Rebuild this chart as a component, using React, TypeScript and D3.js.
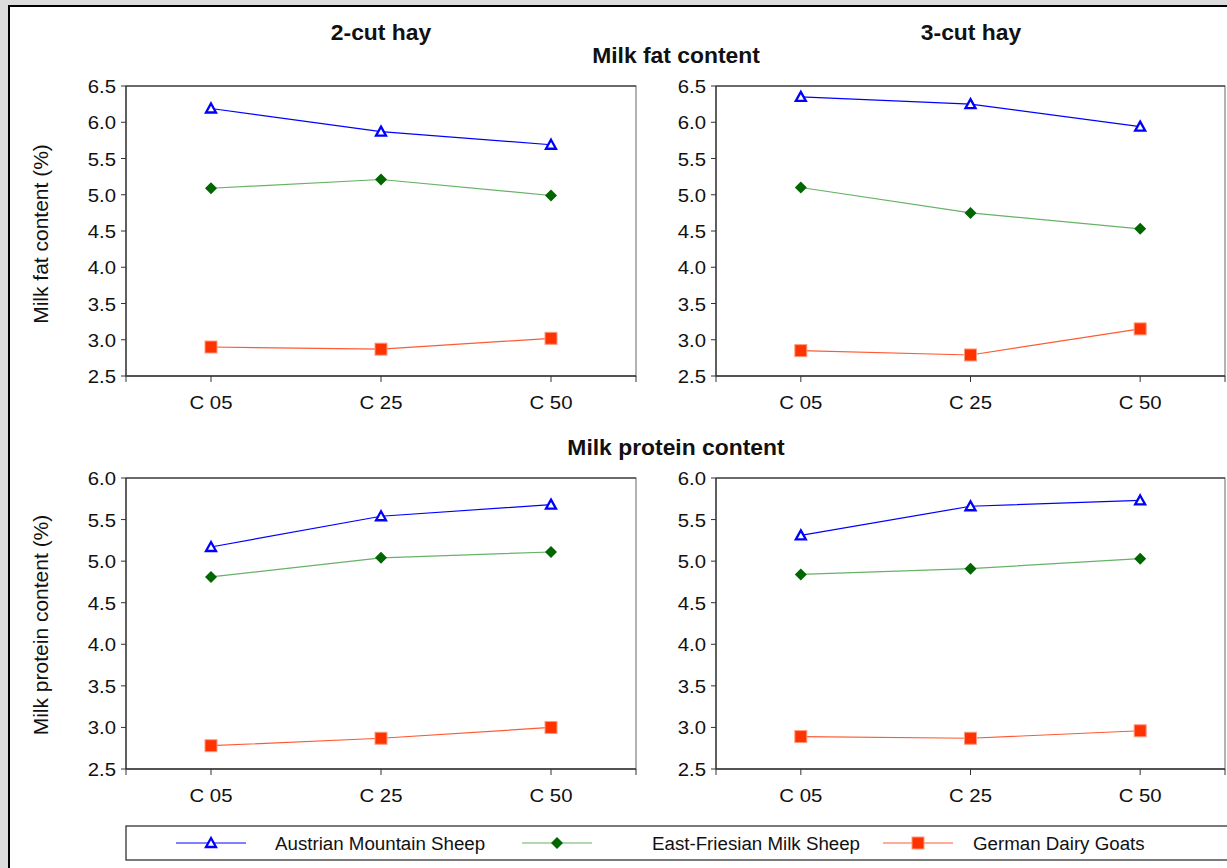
import React from "react";
import * as d3 from "d3";

const categories = ["C 05", "C 25", "C 50"];
const seriesNames = ["Austrian Mountain Sheep", "East-Friesian Milk Sheep", "German Dairy Goats"];

// milk fat (%)
const fat2cutAustrian = [6.19, 5.87, 5.69];
const fat2cutFriesian = [5.09, 5.21, 4.99];
const fat2cutGoats = [2.9, 2.87, 3.02];
const fat3cutAustrian = [6.35, 6.25, 5.94];
const fat3cutFriesian = [5.1, 4.75, 4.53];
const fat3cutGoats = [2.85, 2.79, 3.15];

// milk protein (%)
const prot2cutAustrian = [5.17, 5.54, 5.68];
const prot2cutFriesian = [4.81, 5.04, 5.11];
const prot2cutGoats = [2.78, 2.87, 3.0];
const prot3cutAustrian = [5.31, 5.66, 5.73];
const prot3cutFriesian = [4.84, 4.91, 5.03];
const prot3cutGoats = [2.89, 2.87, 2.96];

const fatTicks = [2.5, 3.0, 3.5, 4.0, 4.5, 5.0, 5.5, 6.0, 6.5];
const protTicks = [2.5, 3.0, 3.5, 4.0, 4.5, 5.0, 5.5, 6.0];

const W = 1227;
const H = 868;
const FONT = "'Liberation Sans', Arial, sans-serif";

const lineColors = ["#0000ff", "#66b266", "#ff5a33"];
const markColors = ["#0000ff", "#006600", "#ff3300"];

// text that is a bit wider than normal, like the original export
function Txt({ x, y, sx = 1, size, anchor = "start", bold = false, children }: any) {
  return (
    <text
      transform={`translate(${x},${y}) scale(${sx},1)`}
      textAnchor={anchor}
      fontSize={size}
      fontWeight={bold ? "bold" : "normal"}
      fill="#111"
    >
      {children}
    </text>
  );
}

function Marker({ kind, x, y }: { kind: number; x: number; y: number }) {
  if (kind === 0) {
    return (
      <path d="M0,-5L5,4L-5,4Z" transform={`translate(${x},${y})`} fill="#fff" stroke={markColors[0]} strokeWidth={2.3} />
    );
  }
  if (kind === 1) {
    return <path d="M0,-6L6,0L0,6L-6,0Z" transform={`translate(${x},${y})`} fill={markColors[1]} />;
  }
  return <rect x={x - 6} y={y - 6} width={12} height={12} fill={markColors[2]} stroke="#ff9a80" strokeWidth={1} />;
}

function Panel({
  left, right, top, bottom, ticks, series,
}: {
  left: number; right: number; top: number; bottom: number; ticks: number[]; series: number[][];
}) {
  const x = d3.scalePoint<string>().domain(categories).range([left, right]).padding(0.5);
  const y = d3.scaleLinear().domain([ticks[0], ticks[ticks.length - 1]]).range([bottom, top]);
  const line = d3
    .line<number>()
    .x((_, i) => x(categories[i]) as number)
    .y((d) => y(d));
  const xTicks = [left, ...categories.map((c) => x(c) as number), right];
  return (
    <g>
      <rect x={left} y={top} width={right - left} height={bottom - top} fill="#fff" stroke="#808080" strokeWidth={1.2} />
      <line x1={left} x2={right} y1={top} y2={top} stroke="#222" strokeWidth={1} />
      {series.map((s, k) => (
        <path key={"l" + k} d={line(s) as string} fill="none" stroke={lineColors[k]} strokeWidth={1.2} />
      ))}
      {series.map((s, k) =>
        s.map((v, i) => <Marker key={`m${k}-${i}`} kind={k} x={x(categories[i]) as number} y={y(v)} />)
      )}
      <line x1={left} x2={left} y1={top} y2={bottom} stroke="#333" strokeWidth={1.3} />
      <line x1={left} x2={right} y1={bottom} y2={bottom} stroke="#333" strokeWidth={1.3} />
      {ticks.map((t) => (
        <g key={"yt" + t}>
          <line x1={left - 5} x2={left} y1={y(t)} y2={y(t)} stroke="#333" />
          <Txt x={left - 10} y={y(t) + 7} sx={1.07} size={19} anchor="end">
            {d3.format(".1f")(t)}
          </Txt>
        </g>
      ))}
      {xTicks.map((t, i) => (
        <line key={"xt" + i} x1={t} x2={t} y1={bottom} y2={bottom + 6} stroke="#333" />
      ))}
      {categories.map((c) => (
        <Txt key={c} x={x(c) as number} y={bottom + 33} sx={1.1} size={18.5} anchor="middle">
          {c}
        </Txt>
      ))}
    </g>
  );
}

export default function App() {
  const lx = [211, 557, 918];
  const tx = [275, 652, 973];
  return (
    <svg width={W} height={H} style={{ position: "absolute", left: 0, top: 0 }} fontFamily={FONT}>
      <rect x={0} y={0} width={W} height={H} fill="#dcdcdc" />
      <rect x={9} y={6} width={W + 10} height={H + 10} fill="#fff" stroke="#000" strokeWidth={2} />

      <Txt x={381} y={40} sx={1.04} size={22} anchor="middle" bold>2-cut hay</Txt>
      <Txt x={971} y={40} sx={1.04} size={22} anchor="middle" bold>3-cut hay</Txt>
      <Txt x={676} y={63} sx={1.04} size={22} anchor="middle" bold>Milk fat content</Txt>
      <Txt x={676} y={455} sx={1.04} size={22} anchor="middle" bold>Milk protein content</Txt>

      <text transform="translate(48,234) rotate(-90)" textAnchor="middle" fontSize={21} fill="#111">Milk fat content (%)</text>
      <text transform="translate(48,625) rotate(-90)" textAnchor="middle" fontSize={21} fill="#111">Milk protein content (%)</text>

      <Panel left={126} right={636} top={86} bottom={376} ticks={fatTicks}
        series={[fat2cutAustrian, fat2cutFriesian, fat2cutGoats]} />
      <Panel left={716} right={1225} top={86} bottom={376} ticks={fatTicks}
        series={[fat3cutAustrian, fat3cutFriesian, fat3cutGoats]} />
      <Panel left={126} right={636} top={478} bottom={769} ticks={protTicks}
        series={[prot2cutAustrian, prot2cutFriesian, prot2cutGoats]} />
      <Panel left={716} right={1225} top={478} bottom={769} ticks={protTicks}
        series={[prot3cutAustrian, prot3cutFriesian, prot3cutGoats]} />

      <rect x={126} y={826} width={1120} height={34} fill="#fff" stroke="#222" strokeWidth={1.2} />
      {seriesNames.map((name, k) => (
        <g key={name}>
          <line x1={lx[k] - 35} x2={lx[k] + 35} y1={843} y2={843} stroke={lineColors[k]} strokeWidth={1.2} />
          <Marker kind={k} x={lx[k]} y={843} />
          <Txt x={tx[k]} y={849.5} sx={1.04} size={18}>
            {name}
          </Txt>
        </g>
      ))}
    </svg>
  );
}
